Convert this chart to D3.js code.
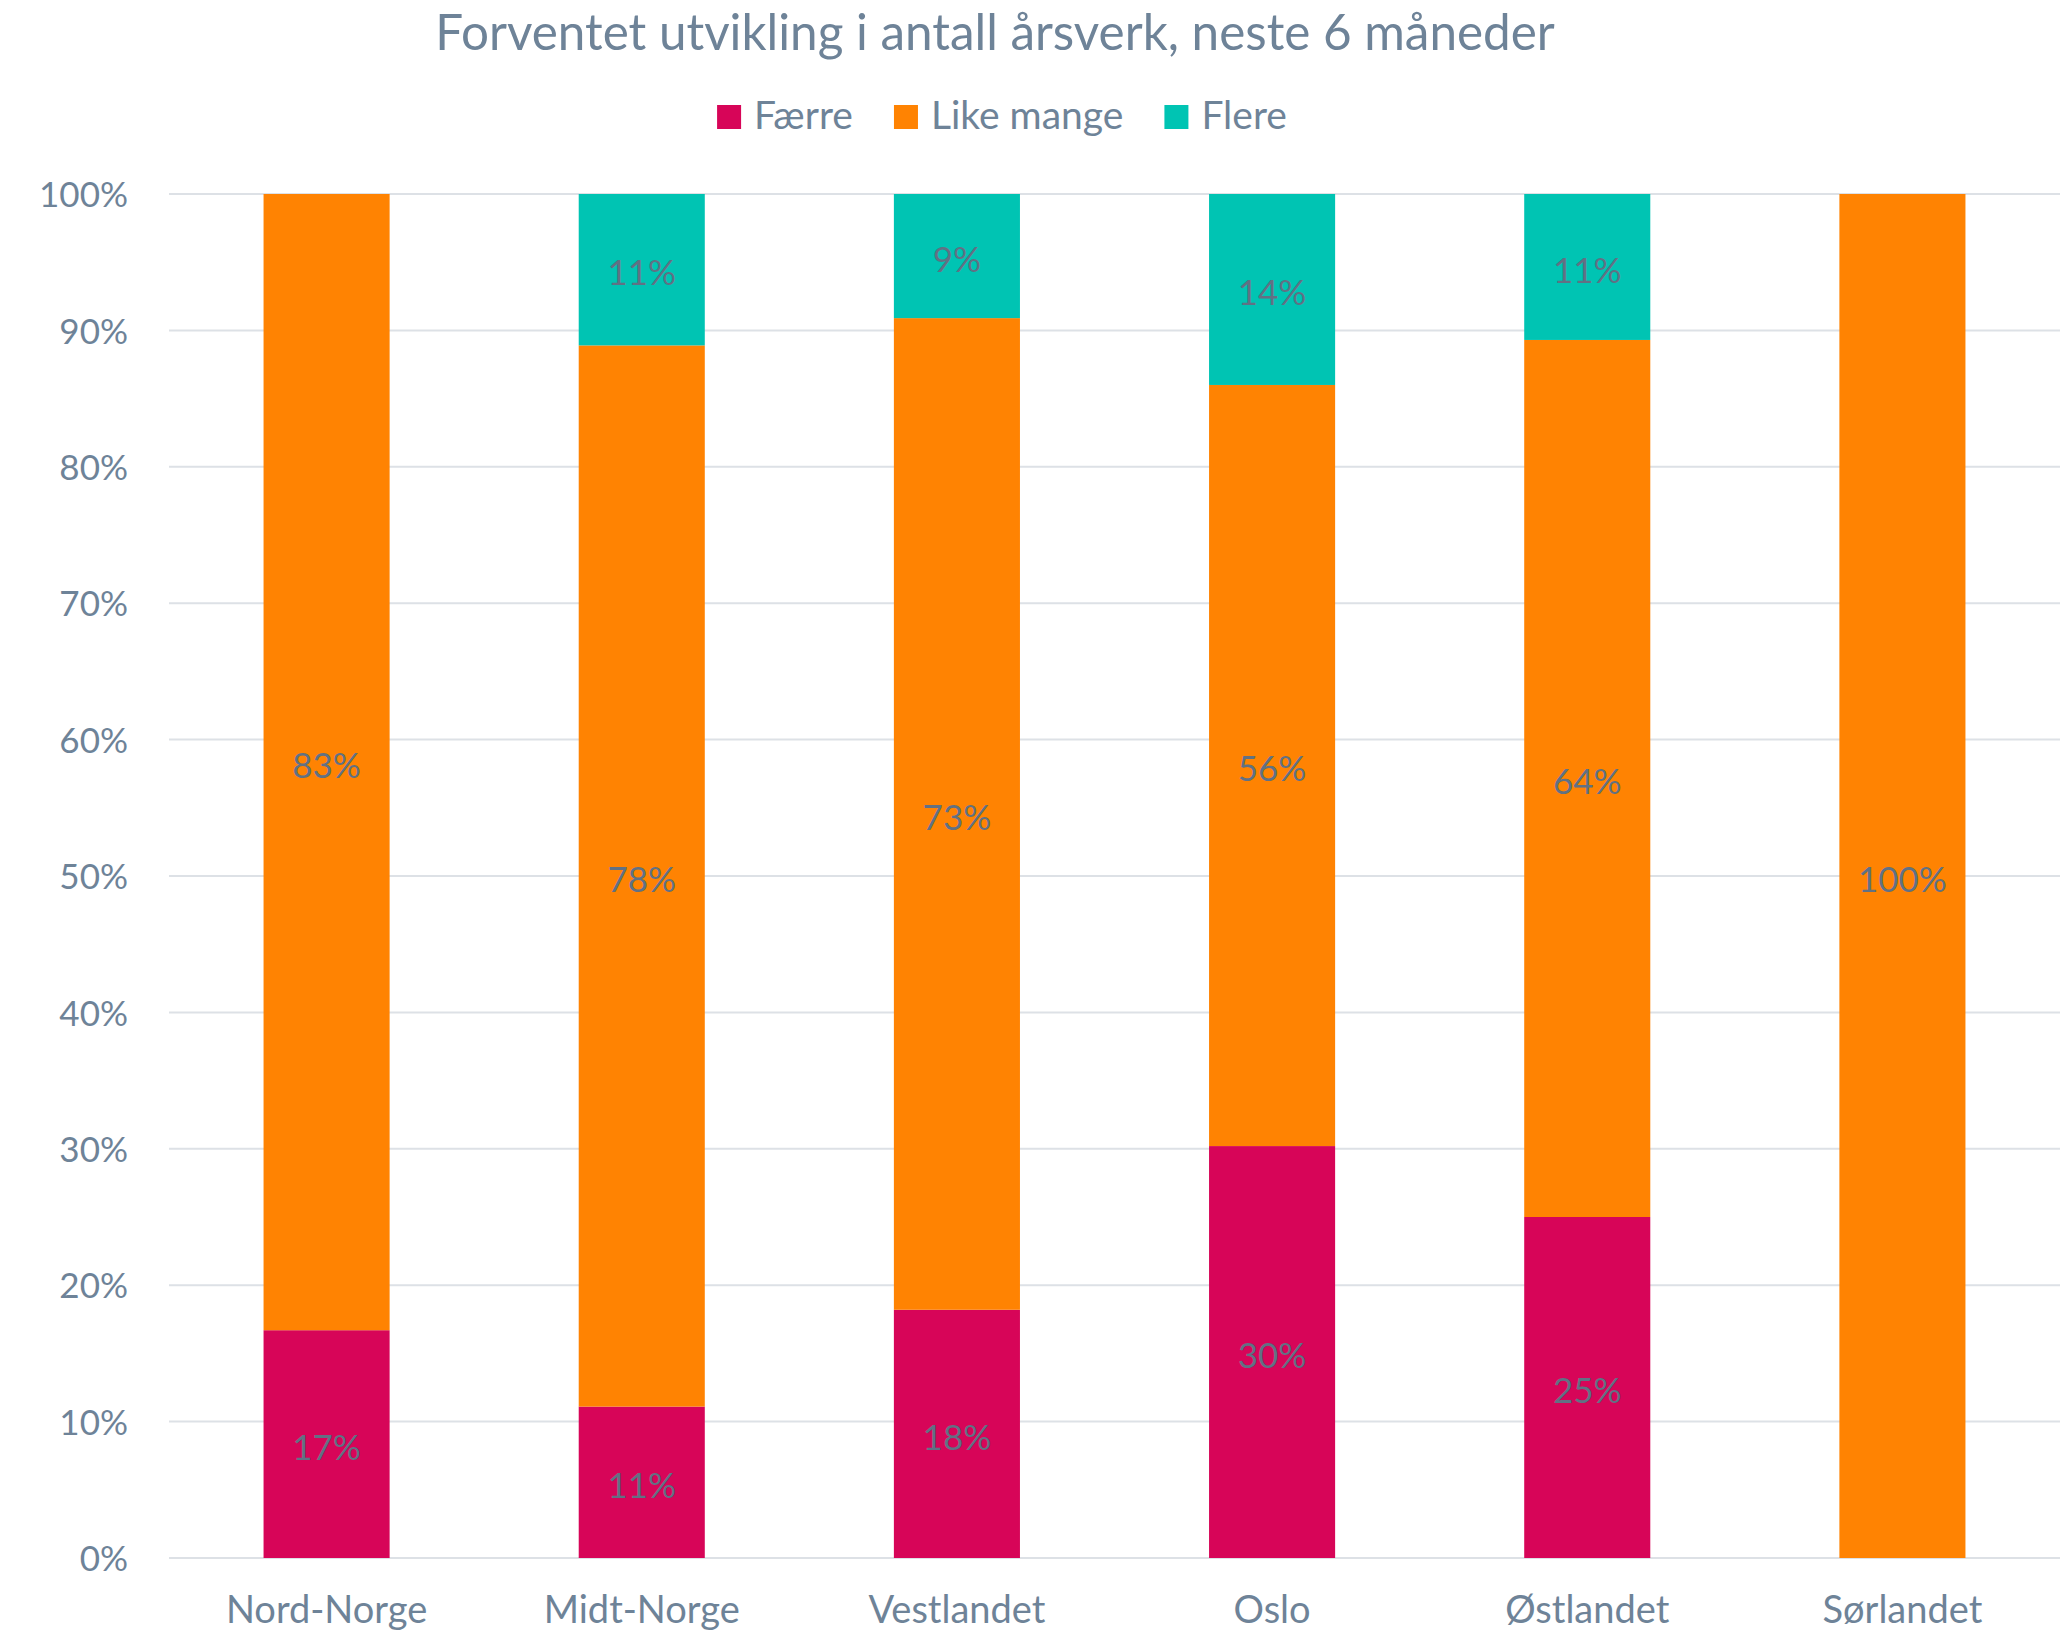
<!DOCTYPE html>
<html>
<head>
<meta charset="utf-8">
<script src="https://cdn.jsdelivr.net/npm/d3@7"></script>
<style>
  html, body { margin: 0; padding: 0; background: #ffffff; }
  svg { display: block; font-family: Lato, "Open Sans", sans-serif; }
</style>
</head>
<body>
<svg id="chart" width="2070" height="1633"></svg>
<script>
const title = "Forventet utvikling i antall årsverk, neste 6 måneder";
const categories = ["Nord-Norge", "Midt-Norge", "Vestlandet", "Oslo", "Østlandet", "Sørlandet"];
const seriesNames = ["Færre", "Like mange", "Flere"];
const seriesColors = ["#d70558", "#ff8302", "#00c4b3"];
const faerre    = [16.7, 11.1, 18.2, 30.2, 25.0, 0];
const likeMange = [83.3, 77.8, 72.7, 55.8, 64.3, 100];
const flere     = [0,    11.1,  9.1, 14.0, 10.7, 0];
const yTicks = [0, 10, 20, 30, 40, 50, 60, 70, 80, 90, 100];

const seriesValues = [faerre, likeMange, flere];
const rows = categories.map((c, i) => {
  const r = { cat: c };
  seriesNames.forEach((s, k) => r[s] = seriesValues[k][i]);
  return r;
});

const svg = d3.select("#chart");
const margin = { left: 169, right: 2060, top: 194, bottom: 1558 };

const x = d3.scaleBand().domain(categories).range([margin.left, margin.right]).paddingInner(0.6).paddingOuter(0.3);
const y = d3.scaleLinear().domain([0, 100]).range([margin.bottom, margin.top]);

const axisColor = "#6e8398";
const labelColor = "#617184";

// gridlines
svg.append("g").selectAll("line").data(yTicks).join("line")
  .attr("x1", margin.left).attr("x2", margin.right)
  .attr("y1", d => y(d)).attr("y2", d => y(d))
  .attr("stroke", "#dde1e6").attr("stroke-width", 2);

// y axis labels
const yAxis = d3.axisLeft(y).tickValues(yTicks).tickFormat(d => d + "%").tickSize(0).tickPadding(0);
const gy = svg.append("g").attr("transform", `translate(128,0)`).call(yAxis);
gy.select(".domain").remove();
gy.selectAll("text").attr("fill", axisColor).style("font-size", "35px").style("font-family", "Lato").attr("dy", "0.36em");

// x axis labels
const xAxis = d3.axisBottom(x).tickSize(0).tickPadding(0);
const gx = svg.append("g").attr("transform", `translate(0,1596)`).call(xAxis);
gx.select(".domain").remove();
gx.selectAll("text").attr("fill", axisColor).style("font-size", "38px").style("font-family", "Lato").attr("dy", "0.71em");

// stacked bars
const stack = d3.stack().keys(seriesNames)(rows);
const layers = svg.append("g").selectAll("g").data(stack).join("g")
  .attr("fill", (d, i) => seriesColors[i]);
layers.selectAll("rect").data(d => d).join("rect")
  .attr("x", d => x(d.data.cat))
  .attr("width", x.bandwidth())
  .attr("y", d => y(d[1]))
  .attr("height", d => y(d[0]) - y(d[1]));

// data labels
const labG = svg.append("g");
stack.forEach((layer) => {
  layer.forEach(d => {
    const v = d[1] - d[0];
    if (v <= 0) return;
    labG.append("text")
      .attr("x", x(d.data.cat) + x.bandwidth() / 2)
      .attr("y", (y(d[0]) + y(d[1])) / 2)
      .attr("dy", "0.45em")
      .attr("text-anchor", "middle")
      .attr("fill", labelColor)
      .style("font-size", "35px")
      .text(Math.round(v) + "%");
  });
});

// title (fit to measured width of reference)
const t = svg.append("text")
  .attr("x", 995).attr("y", 50)
  .attr("text-anchor", "middle")
  .attr("fill", axisColor)
  .style("font-size", "48px")
  .text(title);
const tw = t.node().getComputedTextLength();
t.style("font-size", (48 * 1120 / tw) + "px");

// legend
const leg = svg.append("g");
let cursor = 0;
seriesNames.forEach((s, i) => {
  const g = leg.append("g");
  g.append("rect").attr("x", 0).attr("y", 105).attr("width", 24).attr("height", 24).attr("fill", seriesColors[i]);
  const tx = g.append("text").attr("x", 37).attr("y", 129).attr("fill", axisColor).style("font-size", "39px").text(s);
  const w = 37 + tx.node().getComputedTextLength();
  g.attr("transform", `translate(${cursor},0)`);
  cursor += w + 41;
});
const totalW = cursor - 41;
leg.attr("transform", `translate(${1002 - totalW / 2},0)`);
</script>
</body>
</html>
